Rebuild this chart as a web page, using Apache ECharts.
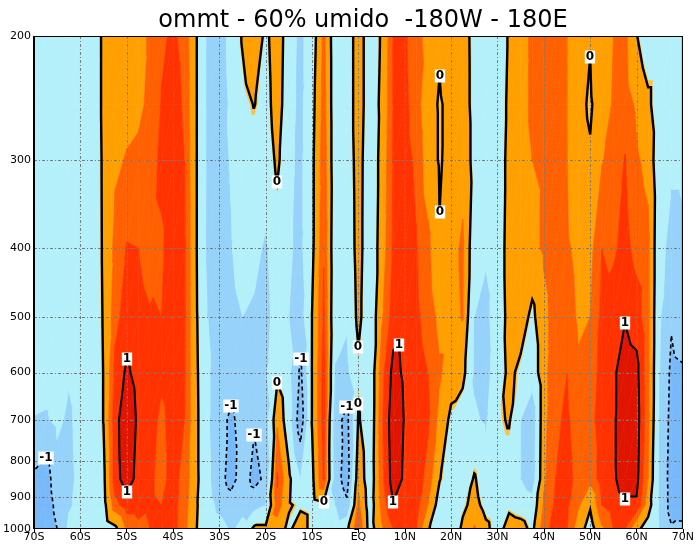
<!DOCTYPE html>
<html>
<head>
<meta charset="utf-8">
<script src="https://cdn.jsdelivr.net/npm/echarts@6/dist/echarts.min.js"></script>
<style>
  html, body { margin: 0; background: #fff; }
  #chart { width: 697px; height: 548px; }
</style>
</head>
<body>
<div id="chart"></div>
<script>
// latitude of each grid column, pressure (hPa) of each row
const lats = [-70, -67.5, -65, -62.5, -60, -57.5, -55, -52.5, -50, -47.5, -45, -42.5, -40, -37.5, -35, -32.5,
  -30, -27.5, -25, -22.5, -20, -17.5, -15, -12.5, -10, -7.5, -5, -2.5, 0, 2.5, 5, 7.5, 10, 12.5, 15, 17.5,
  20, 22.5, 25, 27.5, 30, 32.5, 35, 37.5, 40, 42.5, 45, 47.5, 50, 52.5, 55, 57.5, 60, 62.5, 65, 67.5, 70];
const pLevels = [1000, 925, 850, 700, 600, 500, 400, 300, 250, 200];

// ommt values, one array per pressure level (70S -> 70N)
const p1000 = [-1.4, -1.35, -1.0, -0.4, -0.35, -0.35, -0.3, -0.1, 0.45, 0.6, 0.7, 0.8, 0.8, 0.5, 0.02, -0.3,
  -0.35, -0.55, -0.4, 0.1, 0.1, 0.2, -0.1, 0.3, -0.2, -0.3, -0.3, -0.1, 0.7, -0.2, 0.35, 0.7, 0.8, 0.7, 0.05, -0.35,
  -0.4, 0.1, 0.45, 0.1, -0.2, 0.2, 0.15, -0.1, 0.6, 0.8, 0.7, 0.2, -0.2, 0.35, 0.7, 0.7, 0.1, -0.2, -0.5, -0.95, -0.95];
const p925 = [-1.25, -1.3, -0.85, -0.55, -0.4, -0.3, -0.15, 0.6, 0.85, 0.85, 0.75, 0.7, 0.8, 0.55, 0.05, -0.35,
  -0.6, -0.75, -0.6, -0.7, -0.5, 0.6, 0.05, -0.1, -0.2, -0.1, -0.5, -0.9, 0.5, -0.25, 0.5, 0.98, 0.9, 0.8, 0.4, -0.2,
  -0.3, -0.1, 0.15, -0.15, -0.25, -0.1, -0.2, -0.3, 0.45, 0.75, 0.75, 0.45, 0.05, 0.7, 0.85, 0.95, 0.95, 0.2, -0.55, -1.2, -1.1];
const p850 = [-1.1, -1.25, -0.7, -0.6, -0.4, -0.3, -0.1, 0.88, 1.15, 0.9, 0.75, 0.62, 0.8, 0.6, 0.1, -0.4,
  -0.8, -1.2, -0.75, -1.15, -0.9, 0.75, 0.1, -0.5, -0.1, 0.75, -0.75, -1.25, 0.3, -0.3, 0.6, 1.15, 0.95, 0.85, 0.6, 0.02,
  -0.25, -0.35, 0.05, -0.3, -0.3, -0.3, -0.5, -0.75, 0.35, 0.7, 0.8, 0.6, 0.5, 0.85, 0.95, 1.15, 1.1, 0.4, -0.6, -1.2, -1.2];
const p700 = [-0.52, -0.55, -0.4, -0.58, -0.35, -0.3, 0.01, 0.9, 1.2, 0.95, 0.8, 0.65, 0.8, 0.7, 0.1, -0.45,
  -0.8, -1.1, -0.8, -0.95, -0.7, 0.35, -0.3, -1.3, 0.02, 0.85, -0.8, -1.15, 0.05, -0.35, 0.65, 1.2, 0.98, 0.85, 0.75, 0.3,
  -0.1, -0.3, -0.45, -0.55, -0.1, 0.05, -0.5, -0.8, 0.3, 0.65, 0.75, 0.55, 0.6, 0.85, 0.95, 1.2, 1.15, 0.5, -0.55, -1.15, -1.15];
const p600 = [-0.3, -0.32, -0.3, -0.45, -0.3, -0.3, 0.01, 0.8, 1.05, 0.9, 0.8, 0.75, 0.82, 0.72, 0.08, -0.45,
  -0.7, -0.75, -0.65, -0.65, -0.55, -0.1, -0.4, -1.1, 0.02, 0.85, -0.52, -0.6, -0.1, -0.35, 0.6, 1.1, 0.95, 0.8, 0.7, 0.45,
  0.2, 0.15, -0.55, -0.65, -0.25, 0.1, -0.1, -0.3, 0.3, 0.6, 0.7, 0.45, 0.55, 0.8, 0.95, 1.15, 1.1, 0.5, -0.5, -1.1, -1.05];
const p500 = [-0.3, -0.3, -0.3, -0.35, -0.3, -0.3, 0.03, 0.6, 0.85, 0.78, 0.72, 0.7, 0.85, 0.75, 0.05, -0.5,
  -0.65, -0.6, -0.5, -0.55, -0.6, -0.35, -0.5, -0.7, 0.01, 0.75, -0.4, -0.45, 0.12, -0.35, 0.35, 0.85, 0.9, 0.75, 0.6, 0.3,
  0.3, 0.42, -0.5, -0.6, -0.3, 0.15, 0.2, -0.1, 0.3, 0.55, 0.55, 0.35, 0.4, 0.78, 0.85, 0.98, 0.85, 0.5, -0.45, -0.95, -0.75];
const p400 = [-0.25, -0.25, -0.25, -0.3, -0.3, -0.3, 0.05, 0.5, 0.72, 0.7, 0.6, 0.65, 0.88, 0.75, 0.03, -0.62,
  -0.62, -0.52, -0.35, -0.4, -0.55, -0.3, -0.45, -0.6, -0.1, 0.68, -0.35, -0.35, 0.18, -0.35, 0.2, 0.75, 0.85, 0.72, 0.5, 0.025,
  0.3, 0.45, -0.3, -0.45, -0.3, 0.2, 0.25, 0.3, 0.45, 0.6, 0.45, 0.3, 0.3, 0.7, 0.65, 0.8, 0.6, 0.5, -0.4, -0.6, -0.55];
const p300 = [-0.25, -0.25, -0.25, -0.3, -0.3, -0.3, 0.06, 0.35, 0.42, 0.45, 0.55, 0.78, 0.88, 0.7, 0.03, -0.6,
  -0.6, -0.48, -0.3, -0.3, -0.3, 0.1, -0.4, -0.6, -0.1, 0.6, -0.3, -0.3, 0.2, -0.35, 0.15, 0.72, 0.8, 0.65, 0.2, -0.035,
  0.12, 0.3, -0.15, -0.35, -0.3, 0.15, 0.3, 0.4, 0.45, 0.6, 0.4, 0.1, 0.03, 0.38, 0.5, 0.72, 0.45, 0.3, -0.35, -0.45, -0.45];
const p250 = [-0.25, -0.25, -0.25, -0.3, -0.3, -0.3, 0.08, 0.3, 0.32, 0.35, 0.45, 0.72, 0.85, 0.65, 0.03, -0.6,
  -0.65, -0.45, -0.15, 0.02, -0.2, 0.25, -0.35, -0.6, -0.15, 0.55, -0.3, -0.3, 0.25, -0.3, 0.1, 0.7, 0.78, 0.55, 0.15, -0.035,
  0.1, 0.22, -0.15, -0.3, -0.3, 0.1, 0.3, 0.45, 0.45, 0.68, 0.4, 0.07, -0.035, 0.15, 0.45, 0.55, 0.35, 0.1, -0.3, -0.4, -0.4];
const p200 = [-0.25, -0.25, -0.25, -0.3, -0.3, -0.3, 0.08, 0.3, 0.3, 0.35, 0.42, 0.65, 0.75, 0.6, 0.03, -0.6,
  -0.65, -0.4, 0.05, 0.35, -0.12, 0.3, -0.3, -0.6, -0.25, 0.5, -0.3, -0.3, 0.25, -0.3, 0.05, 0.7, 0.75, 0.5, 0.3, 0.05,
  0.25, 0.2, -0.15, -0.3, -0.3, 0.05, 0.3, 0.45, 0.4, 0.55, 0.4, 0.2, 0.015, 0.3, 0.4, 0.5, 0.02, -0.3, -0.3, -0.35, -0.35];
const field = [p1000, p925, p850, p700, p600, p500, p400, p300, p250, p200];

// shading and contour levels
const shadeLevels = [-1, -0.5, -0.04, 0, 0.4, 0.7, 1];
const shadeColors = ['#78b9fa', '#96d2fa', '#b4f0fa', '#ffc03c', '#ffa000', '#ff6000', '#ff3200', '#e11400'];
const contourLevels = [-1, 0, 1];

// axis ticks
const latTicks = [-70, -60, -50, -40, -30, -20, -10, 0, 10, 20, 30, 40, 50, 60, 70];
const presTicks = [200, 300, 400, 500, 600, 700, 800, 900, 1000];

const latLabel = v => v < 0 ? (-v) + 'S' : (v > 0 ? v + 'N' : 'EQ');

// cut a polygon [[x,y,v],...] keeping the side v >= lev (above) or v < lev
function clip(poly, lev, above) {
  const out = [];
  for (let k = 0; k < poly.length; k++) {
    const a = poly[k], b = poly[(k + 1) % poly.length];
    const ina = above ? a[2] >= lev : a[2] < lev;
    const inb = above ? b[2] >= lev : b[2] < lev;
    if (ina) out.push(a);
    if (ina !== inb) {
      const t = (lev - a[2]) / (b[2] - a[2]);
      out.push([a[0] + t * (b[0] - a[0]), a[1] + t * (b[1] - a[1]), lev]);
    }
  }
  return out;
}

// join contour segments (pairs of edge keys) into polylines
function chains(segs) {
  const adj = new Map();
  segs.forEach((s, n) => s.forEach(k => {
    if (!adj.has(k)) adj.set(k, []);
    adj.get(k).push(n);
  }));
  const used = new Uint8Array(segs.length);
  const follow = (n, from) => {
    const line = [from];
    let cur = from;
    while (n !== -1 && !used[n]) {
      used[n] = 1;
      const s = segs[n];
      cur = s[0] === cur ? s[1] : s[0];
      line.push(cur);
      const next = adj.get(cur).filter(m => !used[m]);
      n = next.length ? next[0] : -1;
    }
    return line;
  };
  const out = [];
  adj.forEach((list, k) => {
    if (list.length === 1 && !used[list[0]]) out.push(follow(list[0], k));
  });
  segs.forEach((s, n) => { if (!used[n]) out.push(follow(n, s[0])); });
  return out;
}

function renderItem(params, api) {
  if (params.dataIndex !== 0) return;
  const nx = lats.length, ny = pLevels.length;
  const P = [];
  for (let j = 0; j < ny; j++) {
    for (let i = 0; i < nx; i++) {
      const c = api.coord([lats[i], Math.log(pLevels[j])]);
      P.push([c[0], c[1], field[j][i]]);
    }
  }
  const id = (i, j) => j * nx + i;
  const tris = [];
  for (let j = 0; j < ny - 1; j++) {
    for (let i = 0; i < nx - 1; i++) {
      tris.push([id(i, j), id(i + 1, j), id(i + 1, j + 1)]);
      tris.push([id(i, j), id(i + 1, j + 1), id(i, j + 1)]);
    }
  }
  const children = [];
  const labels = [];

  // shaded bands
  tris.forEach(t => {
    const tri = t.map(n => P[n]);
    for (let b = 0; b < shadeColors.length; b++) {
      let poly = tri;
      if (b > 0) poly = clip(poly, shadeLevels[b - 1], true);
      if (poly.length && b < shadeLevels.length) poly = clip(poly, shadeLevels[b], false);
      if (poly.length < 3) continue;
      children.push({
        type: 'polygon', silent: true,
        shape: { points: poly.map(q => [q[0], q[1]]) },
        style: { fill: shadeColors[b], stroke: shadeColors[b], lineWidth: 0.6 }
      });
    }
  });

  // dotted grid
  const gridStyle = { stroke: '#7a7a7a', lineWidth: 1, lineDash: [3, 2, 1, 2] };
  const top = api.coord([-70, Math.log(200)])[1], bottom = api.coord([-70, Math.log(1000)])[1];
  const left = api.coord([-70, Math.log(1000)])[0], right = api.coord([70, Math.log(1000)])[0];
  latTicks.slice(1, -1).forEach(v => {
    const x = Math.round(api.coord([v, Math.log(1000)])[0]) + 0.5;
    children.push({ type: 'line', silent: true, shape: { x1: x, y1: top, x2: x, y2: bottom }, style: gridStyle });
  });
  presTicks.slice(1, -1).forEach(p => {
    const y = Math.round(api.coord([0, Math.log(p)])[1]) + 0.5;
    children.push({ type: 'line', silent: true, shape: { x1: left, y1: y, x2: right, y2: y }, style: gridStyle });
  });

  // contour lines
  contourLevels.forEach(lev => {
    const segs = [];
    const pts = new Map();
    const edgeKey = (a, b) => {
      const k = Math.min(a, b) * 100000 + Math.max(a, b);
      if (!pts.has(k)) {
        const A = P[a], B = P[b];
        const s = (lev - A[2]) / (B[2] - A[2]);
        pts.set(k, [A[0] + s * (B[0] - A[0]), A[1] + s * (B[1] - A[1])]);
      }
      return k;
    };
    tris.forEach(t => {
      const cut = [];
      for (let e = 0; e < 3; e++) {
        const a = t[e], b = t[(e + 1) % 3];
        if ((P[a][2] >= lev) !== (P[b][2] >= lev)) cut.push(edgeKey(a, b));
      }
      if (cut.length === 2) segs.push(cut);
    });
    chains(segs).forEach(line => {
      const pl = line.map(k => pts.get(k));
      children.push({
        type: 'polyline', silent: true,
        shape: { points: pl },
        style: {
          fill: null, stroke: '#000',
          lineWidth: lev === 0 ? 2.4 : (lev < 0 ? 1.6 : 2),
          lineDash: lev < 0 ? [4, 3] : null
        }
      });
      // label the tips of the longer lines, as the original plot does
      const closed = line[0] === line[line.length - 1];
      const onTop = q => Math.abs(q[1] - top) < 1;
      const onBottom = q => Math.abs(q[1] - bottom) < 1;
      const onRight = q => Math.abs(q[0] - right) < 1;
      const first = pl[0], last = pl[pl.length - 1];
      let hi = pl[0], lo = pl[0];
      pl.forEach(q => { if (q[1] < hi[1]) hi = q; if (q[1] > lo[1]) lo = q; });
      const spots = [];
      if (closed) {
        spots.push(hi);
        if (lo[1] - hi[1] > 120) spots.push(lo);
      } else if (onRight(first) || onRight(last)) {
        // no label
      } else if (onTop(first) && onTop(last)) {
        if (lo[1] - top > 100) spots.push(lo);
      } else if (onBottom(first) && onBottom(last)) {
        if (bottom - hi[1] > 60) spots.push(hi);
      } else if (!(onTop(first) || onTop(last))) {
        spots.push(hi);
      }
      spots.forEach(q => labels.push({ x: q[0], y: q[1], text: String(lev) }));
    });
  });

  // frame
  children.push({
    type: 'rect', silent: true,
    shape: { x: left, y: top, width: right - left, height: bottom - top },
    style: { fill: null, stroke: '#000', lineWidth: 2 }
  });

  labels.forEach(l => {
    children.push({
      type: 'text', silent: true,
      x: Math.round(l.x), y: Math.round(Math.min(Math.max(l.y, top + 8), bottom - 8)),
      style: {
        text: l.text, fill: '#000', font: 'bold 12px "DejaVu Sans"',
        align: 'center', verticalAlign: 'middle',
        backgroundColor: '#fff', padding: [1, 1, 0, 1]
      }
    });
  });

  return { type: 'group', children };
}

const chart = echarts.init(document.getElementById('chart'));
const yTickVals = presTicks.map(p => Math.log(p));
chart.setOption({
  backgroundColor: '#fff',
  animation: false,
  title: {
    text: 'ommt - 60% umido  -180W - 180E',
    left: 358,
    textAlign: 'center',
    top: 4,
    textStyle: { fontFamily: 'DejaVu Sans', fontSize: 24, fontWeight: 'normal', color: '#000' }
  },
  grid: { left: 32, right: 12, top: 36, bottom: 19 },
  xAxis: {
    type: 'value', min: -70, max: 70, interval: 10,
    axisLine: { show: false },
    axisTick: { show: true, length: 4, lineStyle: { color: '#000' } },
    axisLabel: { formatter: latLabel, fontFamily: 'DejaVu Sans', fontSize: 11, color: '#000', margin: 3 },
    splitLine: { show: false }
  },
  yAxis: {
    type: 'value', inverse: true, min: Math.log(200), max: Math.log(1000),
    axisLine: { show: false },
    axisTick: { show: true, length: 4, customValues: yTickVals, lineStyle: { color: '#000' } },
    axisLabel: {
      customValues: yTickVals, formatter: v => String(Math.round(Math.exp(v))),
      fontFamily: 'DejaVu Sans', fontSize: 11, color: '#000', margin: 3
    },
    splitLine: { show: false }
  },
  series: [{
    type: 'custom',
    renderItem: renderItem,
    data: [[0, Math.log(500)]],
    clip: true,
    silent: true
  }]
});
</script>
</body>
</html>
